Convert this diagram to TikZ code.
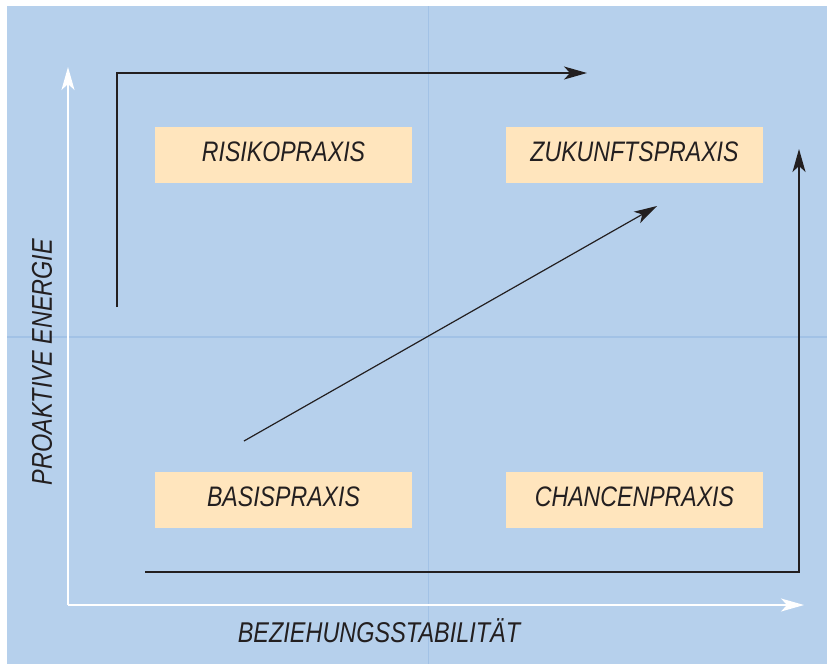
\documentclass[tikz,border=0pt]{standalone}
\usepackage{fontspec}
\setmainfont{Liberation Sans}
\newfontfamily\quadfont[FakeStretch=0.82]{Liberation Sans}
\usetikzlibrary{arrows.meta}
\definecolor{panelblue}{HTML}{B6D0EC}
\definecolor{divider}{HTML}{A2C2E6}
\definecolor{boxfill}{HTML}{FFE5BD}
\definecolor{inkdark}{HTML}{231F20}
\tikzset{
  quadbox/.style={fill=boxfill, minimum width=257pt, minimum height=56pt, inner sep=0pt,
    text depth=6pt, font=\quadfont\itshape\fontsize{28.2}{30}\selectfont, text=inkdark},
  axislabel/.style={font=\quadfont\itshape\fontsize{28.6}{30}\selectfont, text=inkdark, inner sep=0pt},
  axisline/.style={white, line width=1.5pt, -{Stealth[length=23pt,width=13pt,inset=6pt]}},
  flow/.style={inkdark, line width=1.2pt, -{Stealth[length=23pt,width=13pt,inset=6pt]}},
}
\begin{document}
\begin{tikzpicture}[x=1pt,y=-1pt]
  \useasboundingbox (0,0) rectangle (827,664);
  \fill[white] (0,0) rectangle (827,664);
  % panel and quadrant dividers
  \fill[panelblue] (7,6) rectangle (827,664);
  \draw[divider, line width=1.2pt] (428.5,6) -- (428.5,664);
  \draw[divider, line width=1.2pt] (7,337) -- (827,337);
  % axes
  \coordinate (origin) at (68,605);
  \coordinate (ytip) at (68,67);
  \coordinate (xtip) at (804,605);
  \draw[axisline] (origin) -- (ytip);
  \draw[axisline] (origin) -- (xtip);
  \node[axislabel, rotate=90] (ylab) at (42,362) {PROAKTIVE ENERGIE};
  \node[axislabel] (xlab) at (379,631) {BEZIEHUNGSSTABILITÄT};
  % quadrants
  \node[quadbox] (risiko) at (283.5,155) {RISIKOPRAXIS};
  \node[quadbox] (zukunft) at (634.5,155) {ZUKUNFTSPRAXIS};
  \node[quadbox] (basis) at (283.5,500) {BASISPRAXIS};
  \node[quadbox] (chancen) at (634.5,500) {CHANCENPRAXIS};
  % development paths
  \coordinate (upstart) at (117,307);
  \coordinate (upcorner) at (117,73);
  \coordinate (uptip) at (587,73);
  \draw[flow] (upstart) -- (upcorner) -- (uptip);
  \coordinate (rightstart) at (145,572);
  \coordinate (rightcorner) at (799,572);
  \coordinate (righttip) at (799,149);
  \draw[flow] (rightstart) -- (rightcorner) -- (righttip);
  \coordinate (diagstart) at (244,441);
  \coordinate (diagtip) at (657,206);
  \draw[flow] (diagstart) -- (diagtip);
\end{tikzpicture}
\end{document}
